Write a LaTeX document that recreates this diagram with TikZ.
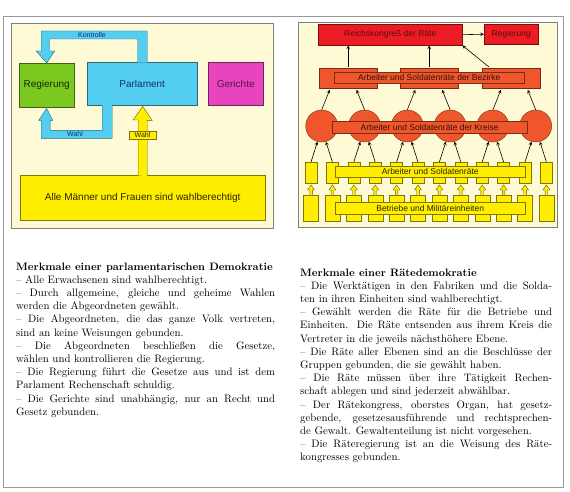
\documentclass[tikz,border=0pt]{standalone}
\usepackage{fontspec}
\newfontfamily\diagfont{Liberation Sans}
\usetikzlibrary{calc}
\setlength{\parindent}{0pt}
\definecolor{creme}{RGB}{255,250,214}
\definecolor{gruen}{RGB}{122,200,32}
\definecolor{blau}{RGB}{84,206,240}
\definecolor{pink}{RGB}{232,68,190}
\definecolor{gelb}{RGB}{255,238,0}
\definecolor{rot}{RGB}{236,28,36}
\definecolor{orot}{RGB}{240,86,44}
\definecolor{dblau}{RGB}{20,44,120}

\begin{document}
\begin{tikzpicture}[x=1pt, y=-1pt, >=stealth,
		box/.style={draw=#1!50!black, fill=#1, inner sep=0pt, anchor=north west},
		gross/.style={font=\diagfont\fontsize{10}{12}\selectfont},
		mittel/.style={font=\diagfont\fontsize{8.5}{10}\selectfont},
		klein/.style={font=\diagfont\fontsize{7}{8}\selectfont},
		pfeil/.style={->, line width=0.6pt},
		spalte/.style={anchor=north west, inner sep=0pt, align=justify,
			font={\fontsize{10.8}{13.2}\selectfont\tolerance=10000 \hbadness=10000 \hyphenpenalty=10000\relax}}]
	\useasboundingbox (0,0) rectangle (570,492);
	\draw[gray!80] (3,16) rectangle (563,487);
	% parlamentarische Demokratie
	\draw[gray, fill=creme] (11,23) rectangle (273,228);
	\node[box=gruen, gross, text=gruen!20!black, minimum width=55pt, minimum height=44pt] (reg) at (19,63) {Regierung};
	\node[box=blau, gross, text=dblau, minimum width=110pt, minimum height=43pt] (parl) at (87,62) {Parlament};
	\node[box=pink, gross, text=pink!35!black, minimum width=55pt, minimum height=43pt] (ger) at (208,62) {Gerichte};
	\node[box=gelb, gross, text=gelb!15!black, minimum width=245pt, minimum height=45pt] (volk) at (20,175) {Alle Männer und Frauen sind wahlberechtigt};
	% Kontrolle
	\filldraw[fill=blau, draw=blau!50!black] ($(parl.north)+(-4.5,0.6)$) -- ++(0,-23.6) -- ++(-88,0) -- ++(0,12) -- ++(5,0)
		-- (reg.north) -- ++(-10.5,-12) -- ++(5,0) -- ++(0,-20) -- ++(106,0) -- ++(0,31.6);
	% Wahl
	\filldraw[fill=blau, draw=blau!50!black] ($(parl.south)+(-40,-0.6)$) -- ++(0,25.6) -- ++(-52,0) -- ++(0,-10) -- ++(2.5,0)
		-- ($(reg.south)+(0,1)$) -- ++(-8,12) -- ++(2.5,0) -- ++(0,18) -- ++(71,0) -- ++(0,-33.6);
	\filldraw[fill=gelb, draw=gelb!40!black] ($(volk.north)+(-4.5,0.6)$) -- ++(0,-55.6) -- ++(-5,0)
		-- ($(parl.south)+(0.5,1)$) -- ++(9.5,14) -- ++(-5,0) -- ++(0,55.6);
	\node[klein, text=dblau] (kontr) at (92,35) {Kontrolle};
	\node[klein, text=dblau] (wahl) at (75,134) {Wahl};
	\node[box=gelb, klein, anchor=center, text=gelb!15!black, minimum width=27pt, minimum height=8pt] (wahlv) at (142.5,135) {Wahl};
	% Raetedemokratie
	\draw[gray, fill=creme] (298,22) rectangle (557,227);
	\node[box=rot, mittel, text=rot!40!black, minimum width=144pt, minimum height=21pt] (rk) at (318,24) {Reichskongreß der Räte};
	\node[box=rot, mittel, text=rot!40!black, minimum width=54pt, minimum height=20pt] (rreg) at (484,24) {Regierung};
	\foreach \n/\x in {1/319,2/400,3/482}
		\node[box=orot, minimum width=58pt, minimum height=20pt] (b\n) at (\x,68) {};
	\node[box=orot, mittel, text=orot!20!black, minimum width=190pt, minimum height=11pt] (bez) at (334,72) {Arbeiter und Soldatenräte der Bezirke};
	\foreach \i in {1,...,6}
		\node[circle, draw=orot!50!black, fill=orot, minimum size=32pt, inner sep=0pt] (k\i) at ({321.7+42.8*(\i-1)},126) {};
	\node[box=orot, mittel, text=orot!20!black, minimum width=195pt, minimum height=12pt] (kreis) at (332,121) {Arbeiter und Soldatenräte der Kreise};
	\foreach \i in {1,...,12}{
		\node[box=gelb, anchor=north, minimum width=12pt, minimum height=21pt] (a\i) at ({311+21.4*(\i-1)},162) {};
		\node[box=gelb, anchor=north, minimum width=15pt, minimum height=26pt] (m\i) at ({311+21.4*(\i-1)},195) {};
		\filldraw[fill=gelb, draw=gelb!40!black, line width=0.4pt] (m\i.north) ++(-1.3,0) -- ++(0,-5) -- ++(-2.2,0)
			-- ++(3.5,-5) -- ++(3.5,5) -- ++(-2.2,0) -- ++(0,5);
	}
	\node[box=gelb, mittel, text=gelb!15!black, minimum width=190pt, minimum height=11pt] (asr) at (335,166) {Arbeiter und Soldatenräte};
	\node[box=gelb, mittel, text=gelb!15!black, minimum width=190pt, minimum height=12pt] (bmi) at (335,202) {Betriebe und Militäreinheiten};
	\draw[pfeil] (rk.east) -- (rreg.west);
	\foreach \n in {1,2}
		\draw[pfeil] ($(b\n.north)+(0,-1)$) -- (b\n.north |- rk.south);
	\draw[pfeil] ($(b3.north west)+(7,-1)$) -- (rk.south east);
	\foreach \i/\dx in {1/8,2/-8,3/8,4/-8,5/8,6/-8}
		\draw[pfeil] (k\i.north) -- ++(\dx,-20);
	\foreach \i in {1,...,6}{
		\pgfmathtruncatemacro{\ka}{2*\i-1}
		\pgfmathtruncatemacro{\kb}{2*\i}
		\draw[pfeil] (a\ka.north) -- (k\i.255);
		\draw[pfeil] (a\kb.north) -- (k\i.285);
	}
	% Texte
	\node[spalte, text width=259pt] (links) at (16,262.5) {\textbf{Merkmale einer parlamentarischen Demokratie}\par
		– Alle Erwachsenen sind wahlberechtigt.\par
		– Durch allgemeine, gleiche und geheime Wahlen\linebreak werden die Abgeordneten gewählt.\par
		– Die Abgeordneten, die das ganze Volk vertreten,\linebreak sind an keine Weisungen gebunden.\par
		– Die Abgeordneten beschließen die Gesetze,\linebreak wählen und kontrollieren die Regierung.\par
		– Die Regierung führt die Gesetze aus und ist dem\linebreak Parlament Rechenschaft schuldig.\par
		– Die Gerichte sind unabhängig, nur an Recht und\linebreak Gesetz gebunden.\par};
	\node[spalte, text width=252pt] (rechts) at (300,268.5) {\textbf{Merkmale einer Rätedemokratie}\par
		– Die Werktätigen in den Fabriken und die Solda-\linebreak ten in ihren Einheiten sind wahlberechtigt.\par
		– Gewählt werden die Räte für die Betriebe und\linebreak Einheiten. Die Räte entsenden aus ihrem Kreis die\linebreak Vertreter in die jeweils nächsthöhere Ebene.\par
		– Die Räte aller Ebenen sind an die Beschlüsse der\linebreak Gruppen gebunden, die sie gewählt haben.\par
		– Die Räte müssen über ihre Tätigkeit Rechen-\linebreak schaft ablegen und sind jederzeit abwählbar.\par
		– Der Rätekongress, oberstes Organ, hat gesetz-\linebreak gebende, gesetzesausführende und rechtsprechen-\linebreak de Gewalt. Gewaltenteilung ist nicht vorgesehen.\par
		– Die Räteregierung ist an die Weisung des Räte-\linebreak kongresses gebunden.\par};
\end{tikzpicture}
\end{document}
